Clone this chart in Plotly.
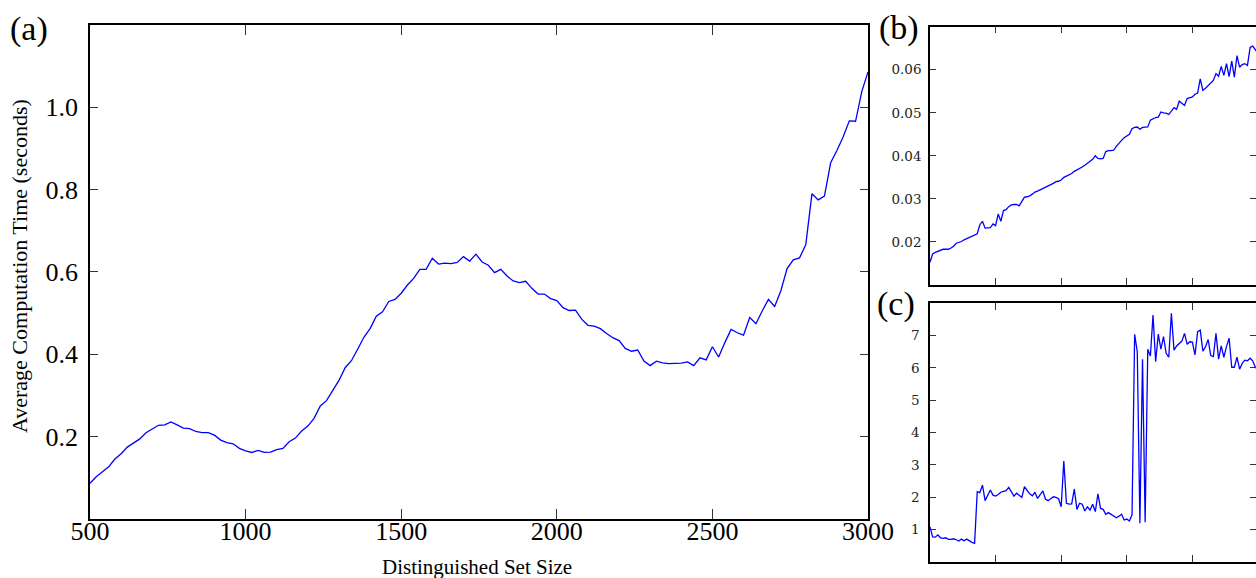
import plotly.graph_objects as go

W, H = 1256, 578

set_sizes = list(range(500, 3001, 20))

time_a = [
    0.086, 0.102, 0.114, 0.126, 0.145, 0.158, 0.174, 0.184, 0.194, 0.209,
    0.217, 0.227, 0.228, 0.235, 0.228, 0.220, 0.219, 0.212, 0.209, 0.209,
    0.203, 0.191, 0.185, 0.182, 0.171, 0.165, 0.161, 0.166, 0.161, 0.162,
    0.168, 0.171, 0.187, 0.196, 0.213, 0.225, 0.244, 0.274, 0.287, 0.310,
    0.336, 0.367, 0.384, 0.412, 0.441, 0.462, 0.492, 0.503, 0.528, 0.533,
    0.548, 0.568, 0.584, 0.606, 0.606, 0.633, 0.619, 0.621, 0.620, 0.623,
    0.637, 0.626, 0.643, 0.624, 0.616, 0.598, 0.606, 0.590, 0.578, 0.574,
    0.577, 0.560, 0.546, 0.546, 0.535, 0.530, 0.513, 0.506, 0.507, 0.485,
    0.470, 0.468, 0.462, 0.450, 0.440, 0.433, 0.414, 0.407, 0.410, 0.383,
    0.372, 0.383, 0.379, 0.377, 0.377, 0.378, 0.381, 0.372, 0.391, 0.386,
    0.418, 0.393, 0.428, 0.460, 0.452, 0.446, 0.489, 0.474, 0.505, 0.533,
    0.516, 0.554, 0.608, 0.629, 0.634, 0.666, 0.790, 0.775, 0.784, 0.865,
    0.895, 0.928, 0.967, 0.966, 1.038, 1.086,
]

time_b = [
    0.0153, 0.0172, 0.0176, 0.0178, 0.0181, 0.0183, 0.0183, 0.0183, 0.0186, 0.0190,
    0.0197, 0.0199, 0.0201, 0.0205, 0.0208, 0.0211, 0.0213, 0.0216, 0.0219, 0.0240,
    0.0248, 0.0232, 0.0232, 0.0233, 0.0242, 0.0238, 0.0265, 0.0248, 0.0273, 0.0275,
    0.0282, 0.0286, 0.0287, 0.0287, 0.0284, 0.0295, 0.0304, 0.0305, 0.0307, 0.0311,
    0.0316, 0.0318, 0.0321, 0.0324, 0.0326, 0.0329, 0.0333, 0.0336, 0.0340, 0.0341,
    0.0344, 0.0350, 0.0353, 0.0356, 0.0359, 0.0364, 0.0367, 0.0371, 0.0374, 0.0378,
    0.0382, 0.0386, 0.0392, 0.0400, 0.0394, 0.0393, 0.0394, 0.0410, 0.0412, 0.0412,
    0.0413, 0.0422, 0.0430, 0.0436, 0.0442, 0.0446, 0.0450, 0.0463, 0.0466, 0.0467,
    0.0462, 0.0466, 0.0467, 0.0467, 0.0483, 0.0486, 0.0489, 0.0490, 0.0502, 0.0500,
    0.0499, 0.0496, 0.0505, 0.0512, 0.0508, 0.0527, 0.0522, 0.0517, 0.0533, 0.0535,
    0.0537, 0.0543, 0.0546, 0.0579, 0.0552, 0.0557, 0.0563, 0.0569, 0.0575, 0.0591,
    0.0585, 0.0608, 0.0587, 0.0614, 0.0584, 0.0620, 0.0583, 0.0633, 0.0606, 0.0612,
    0.0614, 0.0610, 0.0652, 0.0655, 0.0645, 0.0638,
]

time_c = [
    1.08, 0.77, 0.76, 0.83, 0.74, 0.72, 0.74, 0.69, 0.69, 0.71,
    0.68, 0.64, 0.70, 0.65, 0.70, 0.64, 0.60, 0.57, 2.17, 2.14,
    2.37, 1.89, 2.05, 2.22, 2.06, 2.03, 2.08, 2.15, 2.18, 2.20,
    2.30, 2.15, 2.03, 2.12, 2.05, 1.99, 2.32, 2.22, 2.10, 2.04,
    2.15, 1.96, 2.08, 2.19, 1.94, 1.89, 1.95, 2.01, 1.99, 1.95,
    1.70, 3.12, 1.81, 1.78, 1.79, 2.25, 1.62, 1.81, 1.78, 1.57,
    1.70, 1.60, 1.78, 1.55, 2.10, 1.65, 1.62, 1.47, 1.52, 1.46,
    1.41, 1.36, 1.41, 1.47, 1.29, 1.32, 1.26, 1.45, 7.04, 6.50,
    1.19, 6.27, 1.22, 6.58, 6.37, 7.64, 6.19, 7.05, 6.58, 6.97,
    6.45, 6.33, 7.69, 6.55, 6.68, 6.76, 6.83, 7.07, 6.73, 6.81,
    6.80, 6.40, 7.12, 7.17, 6.52, 6.65, 6.88, 6.38, 6.35, 7.07,
    6.27, 6.68, 6.33, 6.66, 6.92, 6.02, 6.02, 6.33, 5.96, 6.14,
    6.24, 6.22, 6.30, 6.22, 6.02, 5.95,
]

a_xticks = [500, 1000, 1500, 2000, 2500, 3000]
a_yticks = [0.2, 0.4, 0.6, 0.8, 1.0]
b_xticks = [1000, 1500, 2000, 2500]
b_yticks = [0.02, 0.03, 0.04, 0.05, 0.06]
c_yticks = [1, 2, 3, 4, 5, 6, 7]

LINE = dict(color="#0000ff", width=1.3)

fig = go.Figure()
fig.add_trace(go.Scatter(x=set_sizes, y=time_a, mode="lines", line=LINE, xaxis="x", yaxis="y", showlegend=False))
fig.add_trace(go.Scatter(x=set_sizes, y=time_b, mode="lines", line=LINE, xaxis="x2", yaxis="y2", showlegend=False))
fig.add_trace(go.Scatter(x=set_sizes, y=time_c, mode="lines", line=LINE, xaxis="x3", yaxis="y3", showlegend=False))

def px_x(p):
    return p / W

def px_y(p):
    return (H - p) / H

serif_big = "Liberation Serif, Times New Roman, serif"
serif_small = "DejaVu Serif, serif"

common = dict(showgrid=False, zeroline=False, showline=True, linecolor="black", linewidth=1.5,
              mirror="ticks", ticks="inside", tickcolor="#333333", tickwidth=1, automargin=False)

fig.update_layout(
    width=W, height=H,
    margin=dict(l=0, r=0, t=0, b=0, autoexpand=False),
    paper_bgcolor="white", plot_bgcolor="white",
    xaxis=dict(**common, domain=[px_x(90), px_x(868)], range=[500, 3000], anchor="y",
               tickvals=a_xticks, ticklen=10, ticklabelstandoff=-12,
               tickfont=dict(family=serif_big, size=26, color="black")),
    yaxis=dict(**common, domain=[px_y(518.7), px_y(25)], range=[0, 1.2], anchor="x",
               tickvals=a_yticks, tickformat=".1f", ticklen=8, ticklabelstandoff=5,
               tickfont=dict(family=serif_big, size=26, color="black")),
    xaxis2=dict(**common, domain=[px_x(930), 1.0], range=[500, 2985], anchor="y2",
                tickvals=b_xticks, ticklen=7, showticklabels=False),
    yaxis2=dict(**common, domain=[px_y(285), px_y(26.7)], range=[0.01, 0.07], anchor="x2",
                tickvals=b_yticks, tickformat=".2f", ticklen=6, ticklabelstandoff=4,
                tickfont=dict(family=serif_small, size=13.5, color="#222222")),
    xaxis3=dict(**common, domain=[px_x(930), 1.0], range=[500, 2985], anchor="y3",
                tickvals=b_xticks, ticklen=7, showticklabels=False),
    yaxis3=dict(**common, domain=[px_y(561.7), px_y(303.3)], range=[0, 8], anchor="x3",
                tickvals=c_yticks, ticklen=6, ticklabelstandoff=6,
                tickfont=dict(family=serif_small, size=13.5, color="#222222")),
)

# axis titles and panel labels placed as paper annotations
fig.add_annotation(text="Distinguished Set Size", x=px_x(477), y=px_y(567), xref="paper", yref="paper",
                   xanchor="center", yanchor="middle", showarrow=False,
                   font=dict(family=serif_big, size=21, color="black"))
fig.add_annotation(text="Average Computation Time (seconds)", x=px_x(20), y=px_y(266), xref="paper", yref="paper",
                   xanchor="center", yanchor="middle", showarrow=False, textangle=-90,
                   font=dict(family=serif_big, size=22, color="black"))

for label, cx, cy in [("(a)", 29, 29), ("(b)", 899, 28), ("(c)", 896, 304)]:
    fig.add_annotation(text=label, x=px_x(cx), y=px_y(cy), xref="paper", yref="paper",
                       xanchor="center", yanchor="middle", showarrow=False,
                       font=dict(family=serif_big, size=34, color="black"))

fig.write_html("out.html")
